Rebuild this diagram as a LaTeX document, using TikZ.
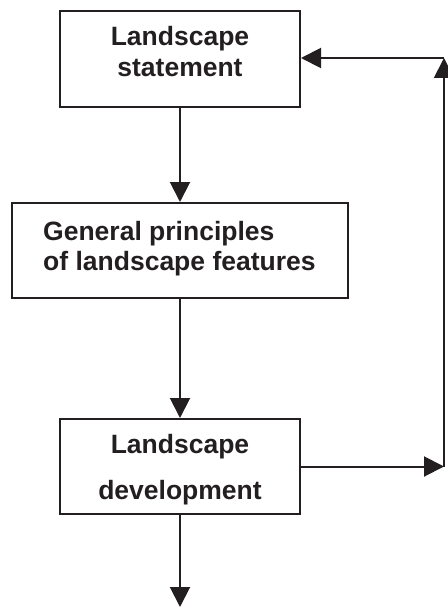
\documentclass[tikz,border=0pt]{standalone}
\usepackage{fontspec}
\setmainfont{Liberation Sans}
\usetikzlibrary{arrows.meta}
\definecolor{ink}{RGB}{35,31,32}
\begin{document}
\begin{tikzpicture}[x=1pt,y=-1pt,
  box/.style={draw=ink,line width=2pt,rectangle,inner sep=0pt},
  txt/.style={text=ink,font=\fontsize{26.5}{30}\selectfont\bfseries,inner sep=0pt},
  arr/.style={draw=ink,line width=2pt,-{Triangle[width=20pt,length=20pt]}}]
\useasboundingbox (0,0) rectangle (447,607);
% boxes
\node[box,minimum width=240pt,minimum height=96pt] (b1) at (180,59) {};
\node[box,minimum width=336pt,minimum height=95pt] (b2) at (180,250.5) {};
\node[box,minimum width=240pt,minimum height=95pt] (b3) at (180,466.5) {};
% texts
\node[txt,anchor=base] (t1a) at (180,46) {Landscape};
\node[txt,anchor=base] (t1b) at (180,77) {statement};
\node[txt,anchor=base west] (t2a) at (43,240) {General principles};
\node[txt,anchor=base west] (t2b) at (43,270) {of landscape features};
\node[txt,anchor=base] (t3a) at (180,453) {Landscape};
\node[txt,anchor=base] (t3b) at (180,499) {development};
% coordinates
\coordinate (cR) at (444,466.5);
\coordinate (cT) at (444,58);
\coordinate (cB) at (180,607);
% connectors
\draw[arr] (b1.south) -- (b2.north);
\draw[arr] (b2.south) -- (b3.north);
\draw[arr] (b3.south) -- (cB);
\draw[arr] (b3.east) -- (cR);
\draw[arr] (cR) -- (cT);
\draw[arr] (cT) -- (cT -| b1.east);
\end{tikzpicture}
\end{document}
